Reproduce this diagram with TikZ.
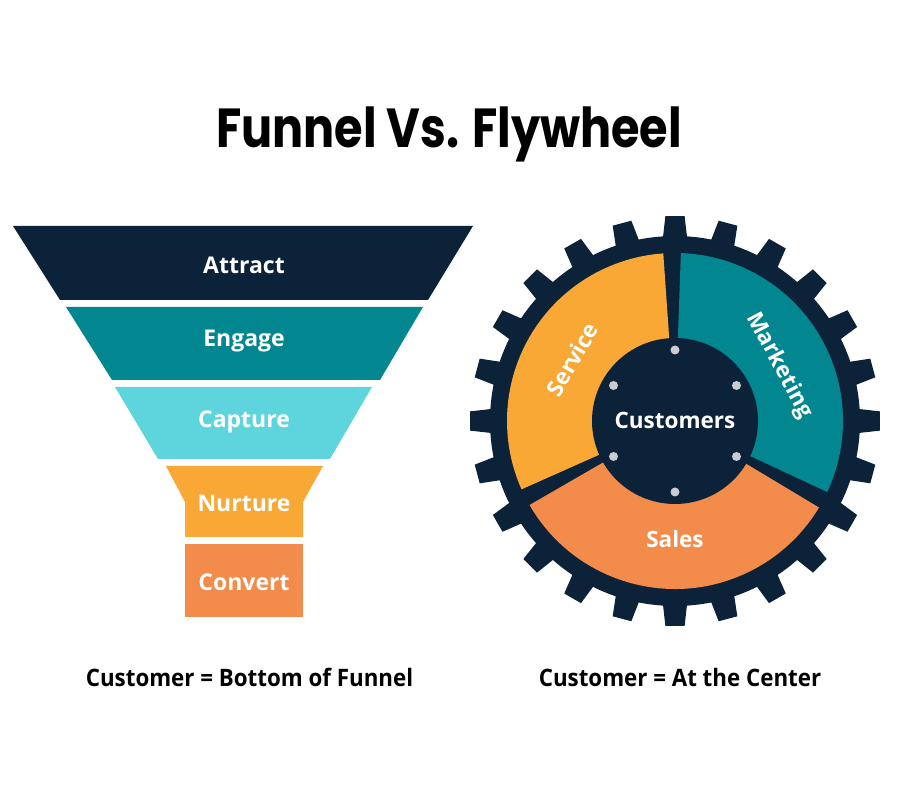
\documentclass[tikz,border=0pt]{standalone}
\usepackage{fontspec}
\setmainfont{Open Sans}
\newfontfamily\titlefont[FakeStretch=0.84]{Poppins}
\newfontfamily\capfont[FakeStretch=0.93]{Open Sans}

\definecolor{fwnavy}{HTML}{0B2239}
\definecolor{fwteal}{HTML}{02868F}
\definecolor{fwcyan}{HTML}{5ED5DC}
\definecolor{fwyellow}{HTML}{F9A835}
\definecolor{fworange}{HTML}{F38B4A}
\definecolor{fwdot}{HTML}{C9CCD1}

\tikzset{
  stage/.style={text=white, font=\bfseries\fontsize{23}{23}\selectfont},
  wheel label/.style={text=white, inner sep=1pt, font=\bfseries\fontsize{22.5}{22.5}\selectfont},
  bottomcap/.style={anchor=base, font=\capfont\bfseries\fontsize{24}{24}\selectfont},
}

\begin{document}
\begin{tikzpicture}[x=1pt, y=1pt]

      \useasboundingbox (0,0) rectangle (900,800);
      \fill[white] (0,0) rectangle (900,800);

      \node[anchor=base, font=\titlefont\bfseries\fontsize{55}{55}\selectfont] (title) at (449,652) {Funnel Vs. Flywheel};

      % funnel
      \fill[fwnavy] (13,574) -- (473,574) -- (428,500) -- (60,500) -- cycle;
      \fill[fwteal] (66,493) -- (423,493) -- (380,420) -- (112,420) -- cycle;
      \fill[fwcyan] (115,413) -- (372,413) -- (330,341) -- (158,341) -- cycle;
      \fill[fwyellow] (166,334) -- (323,334) -- (303,298) -- (303,263) -- (185,263) -- (185,298) -- cycle;
      \fill[fworange] (185,256) rectangle (303,183);

      \node[stage] (attract) at (244,535) {Attract};
      \node[stage] (engage) at (244,459) {Engage};
      \node[stage] (capture) at (244,378) {Capture};
      \node[stage] (nurture) at (244,297) {Nurture};
      \node[stage] (convert) at (244,218) {Convert};

      % flywheel
      \begin{scope}[shift={(675,379)}]
        \fill[fwnavy] (0,0) circle (185);
        \foreach \a in {0,15,...,345}
          \fill[fwnavy] ({\a-3.8}:183) -- ({\a-2.7}:205) -- ({\a+2.7}:205) -- ({\a+3.8}:183) -- cycle;
        \foreach \from/\to/\col in {-25/88/fwteal, 94/204/fwyellow, 210/329/fworange}
          \fill[\col] (\from:168) arc[start angle=\from, end angle=\to, radius=168]
            -- (\to:82) arc[start angle=\to, end angle=\from, radius=82] -- cycle;
        \fill[fwnavy] (0,0) circle (83);
        \foreach \a in {30,90,...,330}
          \fill[fwdot] (\a:71) circle (4.5);

        \node[wheel label] (customers) at (0,1) {Customers};
        \node[wheel label, rotate=60] (service) at (149:120) {Service};
        \node[wheel label, rotate=-62] (marketing) at (28:118) {Marketing};
        \node[wheel label] (sales) at (-90:118) {Sales};
      \end{scope}

      \node[bottomcap] (funnelcap) at (249.5,113) {Customer = Bottom of Funnel};
      \node[bottomcap] (wheelcap) at (680,113) {Customer = At the Center};
    \end{tikzpicture}
\end{document}
